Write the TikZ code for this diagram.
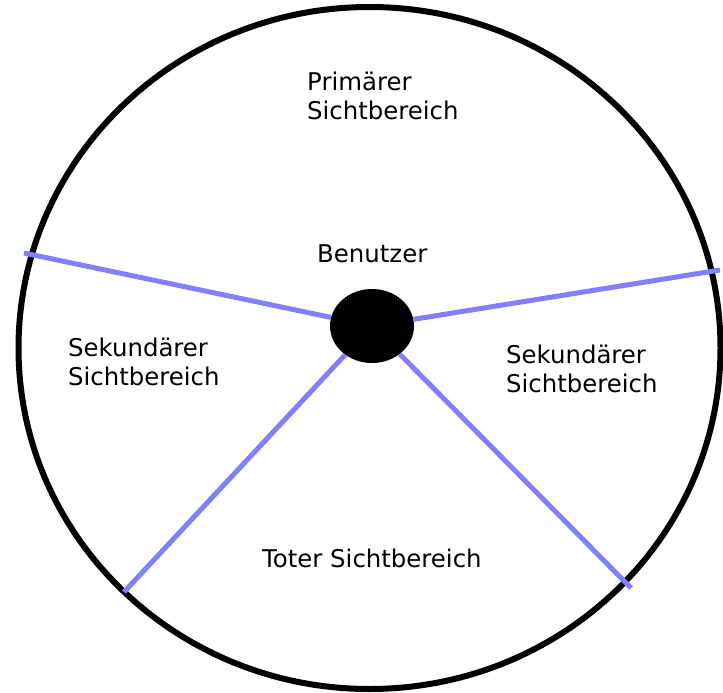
\documentclass[tikz,border=0pt]{standalone}
\usepackage{fontspec}
\setmainfont{DejaVu Sans}
\usetikzlibrary{shapes.geometric}
\definecolor{ray}{RGB}{128,128,255}
\tikzset{
  lbl/.style={anchor=base west, inner sep=0pt, align=left, font=\fontsize{24.4}{29}\selectfont},
  rayline/.style={draw=ray, line width=5pt},
}
\begin{document}
\begin{tikzpicture}[x=1pt,y=-1pt]
\useasboundingbox (0,0) rectangle (723,693);
\draw[line width=6pt] (369.5,348) ellipse [x radius=351, y radius=341];
\node[ellipse, fill=black, minimum width=84pt, minimum height=74pt, inner sep=0pt] (user) at (372,326) {};
\coordinate (ul) at (24,253);
\coordinate (ur) at (720,270);
\coordinate (ll) at (124,592);
\coordinate (lr) at (631,588);
\draw[rayline] (user) -- (ul);
\draw[rayline] (user) -- (ur);
\draw[rayline] (user) -- (ll);
\draw[rayline] (user) -- (lr);
\node[lbl] (prim) at (307,119) {Primärer\\Sichtbereich};
\node[lbl] (ben) at (317,262) {Benutzer};
\node[lbl] (sekl) at (68,385) {Sekundärer\\Sichtbereich};
\node[lbl] (sekr) at (506,392) {Sekundärer\\Sichtbereich};
\node[lbl] (tot) at (262,567) {Toter Sichtbereich};
\end{tikzpicture}
\end{document}
